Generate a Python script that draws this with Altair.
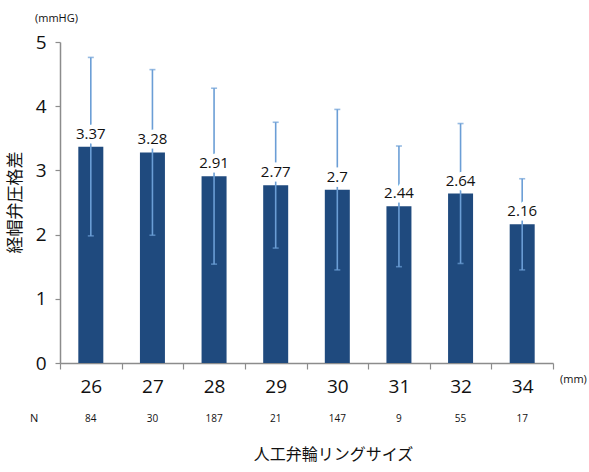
import altair as alt
import pandas as pd

sizes = ["26", "27", "28", "29", "30", "31", "32", "34"]
means = [3.37, 3.28, 2.91, 2.77, 2.7, 2.44, 2.64, 2.16]
sds = [1.39, 1.29, 1.37, 0.98, 1.25, 0.94, 1.09, 0.71]
counts = [84, 30, 187, 21, 147, 9, 55, 17]

df = pd.DataFrame({
    "size": sizes,
    "mean": means,
    "upper": [m + s for m, s in zip(means, sds)],
    "lower": [m - s for m, s in zip(means, sds)],
    "n": [str(c) for c in counts],
    "label": [str(m) for m in means],
})

W, H = 493, 321
NUM_FONT = "Open Sans"
JP_FONT = "Noto Sans CJK JP"
BAR = "#1f4a7e"
ERR = "#6b9ed6"
AX = "#8c8c8c"

x = alt.X(
    "size:N", sort=sizes,
    scale=alt.Scale(paddingInner=0, paddingOuter=0),
    axis=alt.Axis(
        title="人工弁輪リングサイズ", titleFont=JP_FONT, titleFontSize=16,
        titleFontWeight="normal", titleColor="#111",
        titleX=273, titleY=83, titleAlign="center", titleBaseline="top",
        labelAngle=0, labelFont=NUM_FONT, labelFontSize=19, labelColor="#111",
        labelPadding=8, tickSize=6, tickBand="extent", tickColor=AX,
        domainColor=AX, domainWidth=1.5, tickWidth=1.2,
    ),
)

bars = alt.Chart(df).mark_bar(color=BAR, size=25).encode(
    x=x,
    y=alt.Y(
        "mean:Q", scale=alt.Scale(domain=[0, 5], nice=False),
        axis=alt.Axis(
            title="経帽弁圧格差", titleFont=JP_FONT, titleFontSize=17,
            titleFontWeight="normal", titleColor="#111", titleAngle=-90,
            titleX=-45, titleY=160, titleAlign="center", titleBaseline="middle",
            values=[0, 1, 2, 3, 4, 5], format="d", grid=False, labelFont=NUM_FONT,
            labelFontSize=19, labelColor="#111", labelPadding=9, tickSize=5,
            tickColor=AX, domainColor=AX, domainWidth=1.5, tickWidth=1.2,
        ),
    ),
)

err = alt.Chart(df).mark_rule(color=ERR, strokeWidth=1.6).encode(
    x=alt.X("size:N", sort=sizes), y="lower:Q", y2="upper:Q"
)
cap_top = alt.Chart(df).mark_tick(color=ERR, size=6, thickness=1.6).encode(
    x=alt.X("size:N", sort=sizes), y="upper:Q"
)
cap_bot = alt.Chart(df).mark_tick(color=ERR, size=6, thickness=1.6).encode(
    x=alt.X("size:N", sort=sizes), y="lower:Q"
)

halo = alt.Chart(df).mark_text(
    font=NUM_FONT, fontSize=15, dy=-8, baseline="alphabetic",
    stroke="white", strokeWidth=9, fill="white",
).encode(x=alt.X("size:N", sort=sizes), y="mean:Q", text="label:N")
labels = alt.Chart(df).mark_text(
    font=NUM_FONT, fontSize=15, dy=-8, baseline="alphabetic", color="#111",
).encode(x=alt.X("size:N", sort=sizes), y="mean:Q", text="label:N")

nrow = alt.Chart(df).mark_text(
    font=NUM_FONT, fontSize=10, color="#111", baseline="middle",
).encode(x=alt.X("size:N", sort=sizes), y=alt.value(H + 56), text="n:N")

notes = pd.DataFrame({
    "t": ["N", "(mm)", "(mmHG)"],
    "px": [-30, W + 7, -25],
    "py": [H + 56, H + 17, -23],
})
note_marks = alt.Chart(notes).mark_text(
    font=NUM_FONT, fontSize=11, color="#111", align="left", baseline="middle",
).encode(
    x=alt.X("px:Q", scale=None, axis=None),
    y=alt.Y("py:Q", scale=None, axis=None),
    text="t:N",
)

chart = alt.layer(
    bars, err, cap_top, cap_bot, halo, labels, nrow, note_marks
).properties(
    width=W, height=H,
    background="white",
    autosize=alt.AutoSizeParams(type="none"),
    padding={"left": 60, "top": 42, "right": 36, "bottom": 109},
).configure_view(strokeWidth=0, stroke="transparent")

chart.save("out.html", embed_options={"renderer": "svg", "actions": False})
